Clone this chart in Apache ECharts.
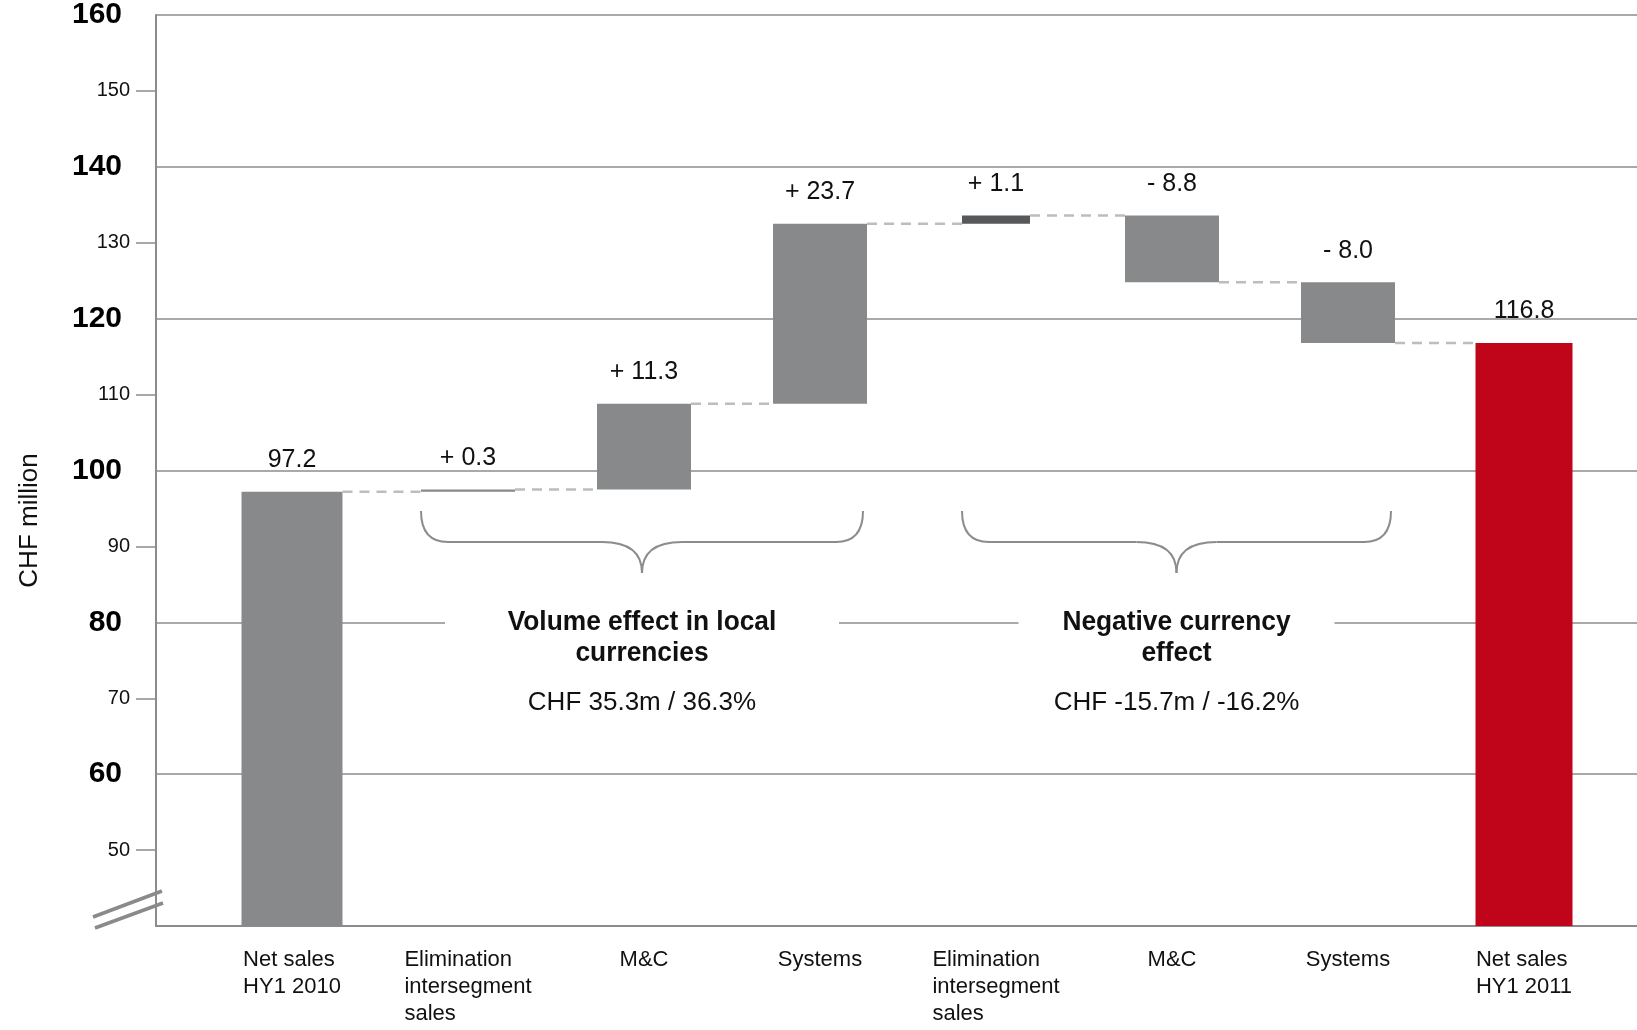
<!DOCTYPE html>
<html>
<head>
<meta charset="utf-8">
<title>Net sales bridge HY1 2010 – HY1 2011</title>
<script src="https://cdn.jsdelivr.net/npm/echarts@6/dist/echarts.min.js"></script>
<style>
  html, body { margin: 0; padding: 0; background: #ffffff; }
  #chart { width: 1637px; height: 1030px; }
</style>
</head>
<body>
<div id="chart"></div>
<script>
// ---- data (CHF million) ----
const categories = [
  'Net sales\nHY1 2010',
  'Elimination\nintersegment\nsales',
  'M&C',
  'Systems',
  'Elimination\nintersegment\nsales',
  'M&C',
  'Systems',
  'Net sales\nHY1 2011'
];
const startTotal = 97.2;
const endTotal = 116.8;
const changes = [0.3, 11.3, 23.7, 1.1, -8.8, -8.0];

// bracketed groups of the bridge (first / last category index)
const groupFirst = [1, 4];
const groupLast = [3, 6];
const groupTitles = ['Volume effect in local\ncurrencies', 'Negative currency\neffect'];
const groupSummaries = ['CHF 35.3m / 36.3%', 'CHF -15.7m / -16.2%'];

const yMin = 40;
const yMax = 160;

// ---- styles ----
const FONT = '"Liberation Sans", Arial, Helvetica, sans-serif';
const INK = '#111111';
const LINE_GREY = '#8c8c8c';
const barKinds = ['total', 'step', 'step', 'step', 'minor', 'step', 'step', 'final'];
const barStyles = {
  total: { color: '#88898b', width: 101 },
  step:  { color: '#88898b', width: 94 },
  minor: { color: '#57585a', width: 68 },
  final: { color: '#c0051a', width: 97 }
};

// ---- waterfall geometry from the values ----
const levels = [startTotal];
changes.forEach(c => levels.push(+(levels[levels.length - 1] + c).toFixed(1)));

const fmtTotal = v => v.toFixed(1);
const fmtChange = v => (v >= 0 ? '+ ' : '- ') + Math.abs(v).toFixed(1);

const items = [];
items.push([0, 0, startTotal, levels[0]]);
changes.forEach((c, k) => {
  const from = levels[k], to = levels[k + 1];
  items.push([k + 1, Math.min(from, to), Math.max(from, to), to]);
});
items.push([categories.length - 1, 0, endTotal, endTotal]);

const labelTexts = [fmtTotal(startTotal)].concat(changes.map(fmtChange), [fmtTotal(endTotal)]);

function renderItem(params, api) {
  const i = params.dataIndex;
  const idx = api.value(0);
  const lo = api.value(1);
  const hi = api.value(2);
  const cs = params.coordSys;
  const bottom = cs.y + cs.height;
  const top = api.coord([idx, hi]);
  const yLo = Math.min(api.coord([idx, lo])[1], bottom);
  const st = barStyles[barKinds[i]];
  const w = st.width;
  const children = [{
    type: 'rect',
    shape: { x: top[0] - w / 2, y: top[1], width: w, height: Math.max(yLo - top[1], 1) },
    style: { fill: st.color }
  }];
  if (i < items.length - 1) {
    const lvl = api.value(3);
    const yL = api.coord([idx, lvl])[1];
    const next = api.coord([idx + 1, lvl]);
    const wn = barStyles[barKinds[i + 1]].width;
    children.push({
      type: 'line',
      shape: { x1: top[0] + w / 2, y1: yL, x2: next[0] - wn / 2, y2: yL },
      style: { stroke: '#bdbdbd', lineWidth: 2.5, lineDash: [10, 7] }
    });
  }
  children.push({
    type: 'text',
    x: top[0],
    y: top[1] - 19,
    style: {
      text: labelTexts[i],
      fill: INK,
      font: '25px ' + FONT,
      align: 'center',
      verticalAlign: 'bottom'
    }
  });
  return { type: 'group', children: children };
}

const chart = echarts.init(document.getElementById('chart'), null, { renderer: 'canvas' });

const option = {
  animation: false,
  backgroundColor: '#ffffff',
  textStyle: { fontFamily: FONT, color: INK },
  grid: [
    { left: 156, right: 0, top: 15, bottom: 104, containLabel: false, outerBoundsMode: 'none' },
    { left: 204, right: 25, top: 15, bottom: 104, containLabel: false, outerBoundsMode: 'none' }
  ],
  xAxis: [
    {
      gridIndex: 0, type: 'value', min: 0, max: 1,
      axisLine: { show: true, onZero: false, lineStyle: { color: LINE_GREY, width: 2 } },
      axisTick: { show: false }, axisLabel: { show: false }, splitLine: { show: false }
    },
    {
      gridIndex: 1, type: 'category', data: categories,
      axisLine: { show: false }, axisTick: { show: false }, splitLine: { show: false },
      axisLabel: {
        interval: 0,
        margin: 20,
        formatter: v => v.split('\n').map(s => '{a|' + s + '}').join('\n'),
        rich: { a: { align: 'left', fontSize: 22, lineHeight: 27, color: INK, fontFamily: FONT } }
      }
    }
  ],
  yAxis: [
    {
      gridIndex: 0, type: 'value', min: yMin, max: yMax, interval: 20,
      name: 'CHF million', nameLocation: 'middle', nameGap: 113,
      nameTextStyle: { fontSize: 26, color: INK, fontFamily: FONT, padding: [0, 100, 0, 0] },
      axisLine: { show: true, onZero: false, lineStyle: { color: LINE_GREY, width: 2 } },
      axisTick: { show: false },
      minorTick: { show: true, splitNumber: 2, length: 20, lineStyle: { color: LINE_GREY, width: 1.5 } },
      minorSplitLine: { show: false },
      splitLine: { show: true, lineStyle: { color: LINE_GREY, width: 1.5 } },
      axisLabel: {
        fontSize: 30, fontWeight: 'bold', color: '#000000', margin: 34, fontFamily: FONT,
        formatter: v => (v === yMin ? '' : String(v))
      }
    },
    {
      gridIndex: 0, type: 'value', min: yMin, max: yMax, interval: 10, position: 'left',
      axisLine: { show: false }, axisTick: { show: false }, splitLine: { show: false },
      axisLabel: {
        fontSize: 20, color: INK, margin: 26, fontFamily: FONT,
        formatter: v => (v % 20 !== 0 ? String(v) : '')
      }
    },
    {
      gridIndex: 1, type: 'value', min: yMin, max: yMax, show: false
    }
  ],
  series: [
    {
      type: 'custom',
      name: 'Net sales bridge',
      coordinateSystem: 'cartesian2d',
      xAxisIndex: 1,
      yAxisIndex: 2,
      renderItem: renderItem,
      encode: { x: 0, y: [1, 2] },
      data: items,
      z: 5
    }
  ]
};

chart.setOption(option);

// ---- annotations: axis break, group braces and group captions ----
const BRACE_STYLE = { stroke: LINE_GREY, lineWidth: 2, fill: null };

// curly brace opening upwards, pointing down at its middle
function braceParts(L, R, yt, ym, yp) {
  const C = (L + R) / 2, r = 27, c = 40;
  const curve = (x1, y1, cpx, cpy, x2, y2) => ({
    type: 'bezierCurve', z: 60,
    shape: { x1: x1, y1: y1, cpx1: cpx, cpy1: cpy, x2: x2, y2: y2 },
    style: BRACE_STYLE
  });
  const seg = (x1, x2) => ({
    type: 'line', z: 60,
    shape: { x1: x1, y1: ym, x2: x2, y2: ym },
    style: BRACE_STYLE
  });
  return [
    curve(L, yt, L, ym, L + r, ym),
    seg(L + r, C - c),
    curve(C - c, ym, C, ym, C, yp),
    curve(C, yp, C, ym, C + c, ym),
    seg(C + c, R - r),
    curve(R - r, ym, R, ym, R, yt)
  ];
}

const origin = chart.convertToPixel({ xAxisIndex: 0, yAxisIndex: 0 }, [0, yMin]);
const catX = i => chart.convertToPixel({ xAxisIndex: 1 }, i);

let graphics = [
  {
    type: 'line', z: 60,
    shape: { x1: origin[0] - 63, y1: origin[1] - 9, x2: origin[0] + 6, y2: origin[1] - 35 },
    style: { stroke: '#8a8a8a', lineWidth: 3.5 }
  },
  {
    type: 'line', z: 60,
    shape: { x1: origin[0] - 61, y1: origin[1] + 2, x2: origin[0] + 7, y2: origin[1] - 23 },
    style: { stroke: '#8a8a8a', lineWidth: 3.5 }
  }
];

const gapHalf = [197, 158];
groupFirst.forEach((first, g) => {
  const last = groupLast[g];
  const L = catX(first) - barStyles[barKinds[first]].width / 2;
  const R = catX(last) + barStyles[barKinds[last]].width / 2 - 4;
  const C = (L + R) / 2;
  graphics = graphics.concat(braceParts(L, R, 511, 542, 573));
  graphics.push({
    type: 'rect', z: 55,
    shape: { x: C - gapHalf[g], y: 606, width: gapHalf[g] * 2, height: 28 },
    style: { fill: '#ffffff' }
  });
  graphics.push({
    type: 'text', z: 61, x: C, y: 638, scaleX: 0.94,
    style: {
      text: groupTitles[g], fill: INK, font: 'bold 28px ' + FONT,
      align: 'center', verticalAlign: 'middle', lineHeight: 31
    }
  });
  graphics.push({
    type: 'text', z: 61, x: C, y: 703,
    style: {
      text: groupSummaries[g], fill: INK, font: '26px ' + FONT,
      align: 'center', verticalAlign: 'middle'
    }
  });
});

chart.setOption({ graphic: graphics });
</script>
</body>
</html>
